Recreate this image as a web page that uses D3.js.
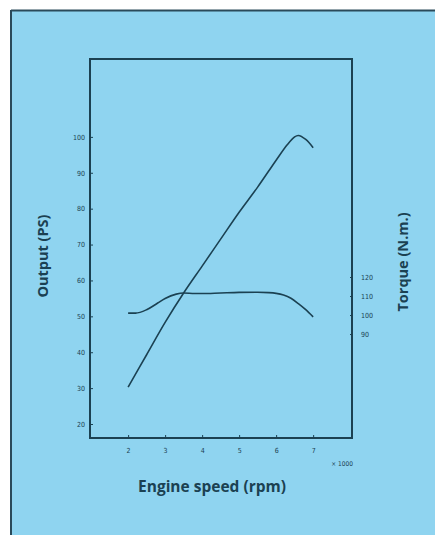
<!DOCTYPE html>
<html><head><meta charset="utf-8">
<script src="https://cdn.jsdelivr.net/npm/d3@7"></script>
<style>html,body{margin:0;padding:0;background:#fff;}svg{display:block;}</style>
</head><body>
<script>
// Data
const rpm = [2.0, 2.5, 3.0, 3.5, 4.0, 4.5, 5.0, 5.5, 6.0, 6.3, 6.5, 6.6, 6.8, 7.0];
const outputPS = [30.3, 39.3, 48.3, 56.5, 64, 71.5, 79, 86, 93.5, 97.8, 100, 100.4, 99.3, 97];
const torqueRpm = [2.0, 2.2, 2.5, 2.8, 3.0, 3.3, 3.5, 3.8, 4.0, 4.5, 5.0, 5.5, 5.8, 6.0, 6.2, 6.4, 6.6, 6.8, 7.0];
const torqueNm = [101, 101, 102.8, 106.3, 108.7, 111, 111.6, 111.3, 111.3, 111.6, 111.9, 112, 111.8, 111.4, 110.5, 108.8, 106, 102.8, 99];
const xTicks = [2, 3, 4, 5, 6, 7];
const psTicks = [20, 30, 40, 50, 60, 70, 80, 90, 100];
const torqueTicks = [90, 100, 110, 120];

const W = 435, H = 535;
const ink = "#1b4152";
const svg = d3.select("body").append("svg").attr("width", W).attr("height", H);

// background panel
svg.append("rect").attr("x", 11).attr("y", 10).attr("width", W - 11).attr("height", H - 10).attr("fill", "#8fd4f0");
svg.append("line").attr("x1", 11).attr("x2", W).attr("y1", 10.5).attr("y2", 10.5).attr("stroke", "#2a4a5a").attr("stroke-width", 2);
svg.append("line").attr("x1", 11).attr("x2", 11).attr("y1", 10).attr("y2", H).attr("stroke", "#2a4a5a").attr("stroke-width", 2);

const L = 90, R = 352, T = 59, B = 438;
const x = d3.scaleLinear().domain([0.97, 8.05]).range([L, R]);
const yP = d3.scaleLinear().domain([16.1, 121.7]).range([B, T]);
const yT = d3.scaleLinear().domain([35.3, 234.7]).range([B, T]);

// plot box
svg.append("rect").attr("x", L).attr("y", T).attr("width", R - L).attr("height", B - T)
  .attr("fill", "none").attr("stroke", ink).attr("stroke-width", 2);

const tickFont = "'Liberation Sans Narrow', 'DejaVu Sans Condensed', sans-serif";

// left axis
const gl = svg.append("g").attr("transform", `translate(${L},0)`)
  .call(d3.axisLeft(yP).tickValues(psTicks).tickSize(-3).tickPadding(5));
gl.select(".domain").remove();
gl.selectAll("line").attr("stroke", ink);
gl.selectAll("text").attr("fill", ink).attr("font-size", 7).attr("font-family", tickFont);

// bottom axis
const gb = svg.append("g").attr("transform", `translate(0,${B})`)
  .call(d3.axisBottom(x).tickValues(xTicks).tickSize(-3).tickPadding(10));
gb.select(".domain").remove();
gb.selectAll("line").attr("stroke", ink);
gb.selectAll("text").attr("fill", ink).attr("font-size", 7).attr("font-family", tickFont);

// right axis (torque)
const gr = svg.append("g").attr("transform", `translate(${R},0)`)
  .call(d3.axisRight(yT).tickValues(torqueTicks).tickSize(-2).tickPadding(9));
gr.select(".domain").remove();
gr.selectAll("line").attr("stroke", ink);
gr.selectAll("text").attr("fill", ink).attr("font-size", 7).attr("font-family", tickFont);

// x1000 note
svg.append("text").attr("x", 353).attr("y", 466).attr("text-anchor", "end")
  .attr("font-size", 6.5).attr("font-family", tickFont).attr("fill", ink).text("× 1000");

// axis titles
const titleFont = "'Open Sans', sans-serif";
svg.append("text").attr("x", 212).attr("y", 492).attr("text-anchor", "middle")
  .attr("font-family", titleFont).attr("font-weight", 700).attr("font-size", 15.5)
  .attr("fill", ink).text("Engine speed (rpm)");
svg.append("text").attr("transform", "translate(48,256) rotate(-90)").attr("text-anchor", "middle")
  .attr("font-family", titleFont).attr("font-weight", 700).attr("font-size", 14.5)
  .attr("fill", ink).text("Output (PS)");
svg.append("text").attr("transform", "translate(408,262) rotate(-90)").attr("text-anchor", "middle")
  .attr("font-family", titleFont).attr("font-weight", 700).attr("font-size", 14.5)
  .attr("fill", ink).text("Torque (N.m.)");

// curves
const powerData = rpm.map((r, i) => [r, outputPS[i]]);
const torqueData = torqueRpm.map((r, i) => [r, torqueNm[i]]);
svg.append("path").datum(powerData)
  .attr("d", d3.line().x(d => x(d[0])).y(d => yP(d[1])).curve(d3.curveCatmullRom.alpha(0.5)))
  .attr("fill", "none").attr("stroke", ink).attr("stroke-width", 1.6);
svg.append("path").datum(torqueData)
  .attr("d", d3.line().x(d => x(d[0])).y(d => yT(d[1])).curve(d3.curveMonotoneX))
  .attr("fill", "none").attr("stroke", ink).attr("stroke-width", 1.6);
</script>
</body></html>
